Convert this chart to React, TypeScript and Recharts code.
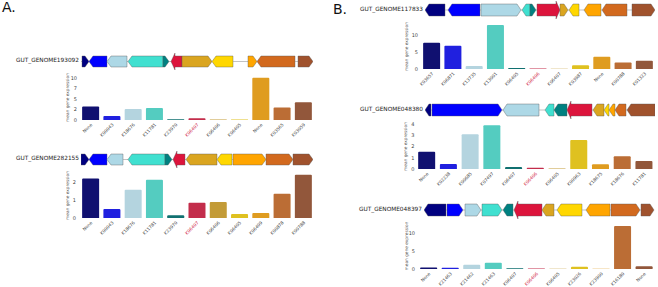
import React from 'react';
import { BarChart, Bar, XAxis, YAxis, Cell, Label } from 'recharts';

const FONT = '"DejaVu Sans", "Liberation Sans", sans-serif';

// gene colours, in gene order (same palette for every neighbourhood)
const GENE_COLORS = ['#000080', '#0000ff', '#add8e6', '#40e0d0', '#008080', '#dc143c', '#daa520', '#ffd700', '#ffa500', '#d2691e', '#a0522d'];
const HIGHLIGHT_INDEX = 5;

// ---------- GUT_GENOME193092 ----------
const g193092Labels = ['None', 'K00043', 'K18676', 'K11781', 'K23970', 'K06407', 'K06406', 'K06405', 'None', 'K03565', 'K03059'];
const g193092Values = [3.2, 0.95, 2.6, 2.85, 0.2, 0.4, 0.1, 0.1, 10.05, 3.0, 4.2];
const g193092Ticks = [0, 2.5, 5, 7.5, 10];
const g193092Starts = [50, 400, 1300, 2350, 4100, 4500, 5050, 6550, 8350, 8800, 10850];
const g193092Ends = [400, 1300, 2300, 4100, 4400, 5050, 6550, 7600, 8800, 10700, 11600];
const g193092Strands = [1, -1, -1, -1, 1, -1, 1, -1, 1, -1, 1];

// ---------- GUT_GENOME282155 ----------
const g282155Labels = ['None', 'K00043', 'K18676', 'K11781', 'K23970', 'K06407', 'K06406', 'K06405', 'K06409', 'K00878', 'K00788'];
const g282155Values = [2.2, 0.5, 1.57, 2.13, 0.15, 0.85, 0.89, 0.22, 0.28, 1.35, 2.4];
const g282155Ticks = [0, 1, 2];
const g282155Starts = [0, 400, 1300, 2350, 4200, 4600, 5250, 6800, 7600, 9250, 10600];
const g282155Ends = [400, 1300, 2100, 4200, 4550, 5200, 6800, 7550, 9250, 10600, 11600];
const g282155Strands = [1, -1, -1, -1, 1, -1, -1, -1, 1, 1, 1];

// ---------- GUT_GENOME117833 ----------
const g117833Labels = ['K03657', 'K06871', 'K13735', 'K13001', 'K06405', 'K06406', 'K06407', 'K03987', 'None', 'K00788', 'K01323'];
const g117833Values = [7.7, 6.8, 0.9, 12.9, 0.3, 0.15, 0.1, 1.1, 3.6, 1.9, 2.4];
const g117833Ticks = [0, 5, 10];
const g117833Starts = [0, 1150, 2800, 4850, 5250, 5600, 6750, 7200, 7950, 8850, 10350];
const g117833Ends = [1000, 2750, 4800, 5250, 5550, 6750, 7150, 7700, 8800, 10100, 11500];
const g117833Strands = [-1, -1, 1, -1, 1, 1, 1, -1, -1, -1, 1];

// ---------- GUT_GENOME048380 ----------
const g048380Labels = ['None', 'K02238', 'K00685', 'K07497', 'K06407', 'K06406', 'K06405', 'K00963', 'K18675', 'K18676', 'K11781'];
const g048380Values = [1.54, 0.44, 3.1, 3.9, 0.18, 0.12, 0.05, 2.58, 0.42, 1.13, 0.71];
const g048380Ticks = [0, 1, 2, 3, 4];
const g048380Starts = [0, 350, 3900, 6000, 6450, 7100, 8400, 8950, 9200, 9500, 10100];
const g048380Ends = [300, 3850, 5700, 6450, 7100, 8350, 8950, 9200, 9500, 10050, 11500];
const g048380Strands = [-1, 1, -1, -1, -1, -1, -1, -1, -1, -1, -1];

// ---------- GUT_GENOME048397 ----------
const g048397Labels = ['None', 'K21463', 'K21462', 'K21463', 'K06407', 'K06406', 'K06405', 'K23026', 'K23900', 'K16180', 'None'];
const g048397Values = [0.4, 0.35, 1.2, 1.75, 0.2, 0.15, 0.1, 0.65, 0.1, 12.0, 0.75];
const g048397Ticks = [0, 5, 10];
const g048397Starts = [0, 1150, 2050, 2900, 3950, 4500, 5900, 6650, 8100, 9350, 10850];
const g048397Ends = [1100, 1950, 2850, 3900, 4450, 5900, 6500, 7900, 9300, 10800, 11500];
const g048397Strands = [-1, 1, 1, 1, -1, -1, -1, -1, -1, 1, 1];

// seaborn-like desaturation of bar colours
function desaturate(hex: string, prop = 0.75): string {
  const r = parseInt(hex.slice(1, 3), 16) / 255;
  const g = parseInt(hex.slice(3, 5), 16) / 255;
  const b = parseInt(hex.slice(5, 7), 16) / 255;
  const max = Math.max(r, g, b), min = Math.min(r, g, b);
  const l = (max + min) / 2;
  let h = 0, s = 0;
  if (max !== min) {
    const d = max - min;
    s = l > 0.5 ? d / (2 - max - min) : d / (max + min);
    if (max === r) h = (g - b) / d + (g < b ? 6 : 0);
    else if (max === g) h = (b - r) / d + 2;
    else h = (r - g) / d + 4;
    h /= 6;
  }
  s *= prop;
  const hue2rgb = (p: number, q: number, t: number) => {
    if (t < 0) t += 1;
    if (t > 1) t -= 1;
    if (t < 1 / 6) return p + (q - p) * 6 * t;
    if (t < 1 / 2) return q;
    if (t < 2 / 3) return p + (q - p) * (2 / 3 - t) * 6;
    return p;
  };
  let rr, gg, bb;
  if (s === 0) { rr = gg = bb = l; } else {
    const q = l < 0.5 ? l * (1 + s) : l + s - l * s;
    const p = 2 * l - q;
    rr = hue2rgb(p, q, h + 1 / 3);
    gg = hue2rgb(p, q, h);
    bb = hue2rgb(p, q, h - 1 / 3);
  }
  const toHex = (v: number) => Math.round(v * 255).toString(16).padStart(2, '0');
  return '#' + toHex(rr) + toHex(gg) + toHex(bb);
}

const BAR_COLORS = GENE_COLORS.map((c) => desaturate(c));

const makeGeneShape = (strand: number, color: string, highlight: boolean) => (props: any) => {
  const { x, y, width, height } = props;
  if (!width || width <= 0) return <g />;
  const h = Math.min(width, 4);
  const top = y, bot = y + height, mid = y + height / 2;
  let pts: number[][];
  if (strand > 0) {
    const xb = x + width - h;
    pts = highlight
      ? [[x, top], [xb, top], [xb, top - 3], [x + width, mid], [xb, bot + 3], [xb, bot], [x, bot]]
      : [[x, top], [xb, top], [x + width, mid], [xb, bot], [x, bot]];
  } else {
    const xb = x + h;
    pts = highlight
      ? [[x + width, top], [xb, top], [xb, top - 3], [x, mid], [xb, bot + 3], [xb, bot], [x + width, bot]]
      : [[x + width, top], [xb, top], [x, mid], [xb, bot], [x + width, bot]];
  }
  return <polygon points={pts.map((p) => p.join(',')).join(' ')} fill={color} stroke="#555" strokeWidth={0.4} strokeLinejoin="miter" />;
};

const gapShape = (props: any) => {
  const { x, y, width, height } = props;
  if (!width || width <= 0) return <g />;
  return <line x1={x} x2={x + width} y1={y + height / 2} y2={y + height / 2} stroke="#999" strokeWidth={0.6} />;
};

interface TrackProps { name: string; starts: number[]; ends: number[]; strands: number[]; total: number; left: number; width: number; cy: number; boxH: number; }

function GeneTrack({ name, starts, ends, strands, total, left, width, cy, boxH }: TrackProps) {
  const row: any = { name };
  let prev = 0;
  starts.forEach((s, i) => {
    row['gap' + i] = s - prev;
    row['gene' + i] = ends[i] - s;
    prev = ends[i];
  });
  const bars: any[] = [];
  starts.forEach((_, i) => {
    bars.push(<Bar key={'gap' + i} dataKey={'gap' + i} stackId="t" isAnimationActive={false} shape={gapShape} />);
    bars.push(
      <Bar key={'gene' + i} dataKey={'gene' + i} stackId="t" isAnimationActive={false}
        shape={makeGeneShape(strands[i], GENE_COLORS[i], i === HIGHLIGHT_INDEX)} />
    );
  });
  return (
    <>
      <div style={{ position: 'absolute', right: 658 - (left - 2), top: cy, transform: 'translateY(-50%)', fontSize: 5.8, lineHeight: 1, color: '#222', fontFamily: FONT, whiteSpace: 'nowrap' }}>{name}</div>
      <div style={{ position: 'absolute', left, top: cy - 10, width, height: 20 }}>
        <BarChart layout="vertical" width={width} height={20} data={[row]} margin={{ top: 0, right: 0, bottom: 0, left: 0 }} barSize={boxH} barCategoryGap={0}>
          <XAxis type="number" hide domain={[0, total]} />
          <YAxis type="category" dataKey="name" hide />
          {bars}
        </BarChart>
      </div>
    </>
  );
}

interface ExprProps { labels: string[]; values: number[]; ticks: number[]; yMax: number; plotLeft: number; plotRight: number; plotTop: number; plotBottom: number; labelX: number; tickGap: number; }

function ExprChart({ labels, values, ticks, yMax, plotLeft, plotRight, plotTop, plotBottom, labelX, tickGap }: ExprProps) {
  const data = labels.map((l, i) => ({ i, label: l, value: values[i] }));
  const divLeft = labelX - 4;
  const yw = plotLeft - divLeft;
  const mt = 4, xh = 22;
  const width = plotRight - divLeft + 2;
  const height = mt + (plotBottom - plotTop) + xh;
  const renderTick = (p: any) => {
    const { x, y, payload } = p;
    const idx = payload.value as number;
    const ax = x + 2, ay = y + 2;
    return (
      <text x={ax} y={ay} transform={`rotate(-45 ${ax} ${ay})`} textAnchor="end" fontSize={4.4} fontFamily={FONT}
        fill={idx === HIGHLIGHT_INDEX ? '#d0203f' : '#444'}>{labels[idx]}</text>
    );
  };
  const renderYLabel = (p: any) => {
    const vb = p.viewBox || {};
    const cx = (vb.x || 0) + 4.5;
    const cyy = (vb.y || 0) + (vb.height || 0) / 2;
    return (
      <text x={cx} y={cyy} transform={`rotate(-90 ${cx} ${cyy})`} textAnchor="middle" fontSize={4.3} fontFamily={FONT} fill="#555">mean gene expression</text>
    );
  };
  return (
    <div style={{ position: 'absolute', left: divLeft, top: plotTop - mt, width, height }}>
      <BarChart width={width} height={height} data={data} margin={{ top: mt, right: 2, left: 0, bottom: 0 }} barCategoryGap="10%">
        <XAxis dataKey="i" type="category" interval={0} tickLine={false} axisLine={false} height={xh} tickSize={2} tickMargin={1} tick={renderTick} />
        <YAxis type="number" domain={[0, yMax]} ticks={ticks} width={yw} tickLine={false} axisLine={false} tickSize={0} tickMargin={tickGap}
          tick={{ fontSize: 5, fill: '#444', fontFamily: FONT }} tickFormatter={(v: number) => String(Math.floor(v))}>
          <Label content={renderYLabel} />
        </YAxis>
        <Bar dataKey="value" isAnimationActive={false} radius={[1, 1, 0, 0]}>
          {data.map((d) => <Cell key={d.i} fill={BAR_COLORS[d.i]} />)}
        </Bar>
      </BarChart>
    </div>
  );
}

export default function App() {
  return (
    <div style={{ position: 'absolute', left: 0, top: 0, width: 658, height: 287, background: '#fff', overflow: 'hidden', fontFamily: FONT }}>
      <div style={{ position: 'absolute', left: 2, top: 0, fontSize: 14, lineHeight: 1, color: '#111' }}>A.</div>
      <div style={{ position: 'absolute', left: 333, top: 1.5, fontSize: 14, lineHeight: 1, color: '#111' }}>B.</div>

      <GeneTrack name="GUT_GENOME193092" starts={g193092Starts} ends={g193092Ends} strands={g193092Strands} total={11600} left={81} width={232} cy={60.5} boxH={11} />
      <ExprChart labels={g193092Labels} values={g193092Values} ticks={g193092Ticks} yMax={10.7} plotLeft={80} plotRight={314} plotTop={75} plotBottom={120} labelX={68} tickGap={3} />

      <GeneTrack name="GUT_GENOME282155" starts={g282155Starts} ends={g282155Ends} strands={g282155Strands} total={11600} left={81} width={232} cy={159} boxH={11} />
      <ExprChart labels={g282155Labels} values={g282155Values} ticks={g282155Ticks} yMax={2.5} plotLeft={80} plotRight={314} plotTop={173} plotBottom={218} labelX={68} tickGap={4} />

      <GeneTrack name="GUT_GENOME117833" starts={g117833Starts} ends={g117833Ends} strands={g117833Strands} total={11500} left={425} width={230} cy={10} boxH={12} />
      <ExprChart labels={g117833Labels} values={g117833Values} ticks={g117833Ticks} yMax={13.2} plotLeft={421} plotRight={655} plotTop={24} plotBottom={69} labelX={407} tickGap={3} />

      <GeneTrack name="GUT_GENOME048380" starts={g048380Starts} ends={g048380Ends} strands={g048380Strands} total={11500} left={425} width={230} cy={109.5} boxH={12} />
      <ExprChart labels={g048380Labels} values={g048380Values} ticks={g048380Ticks} yMax={4.0} plotLeft={416} plotRight={655} plotTop={124} plotBottom={169} labelX={406} tickGap={1.5} />

      <GeneTrack name="GUT_GENOME048397" starts={g048397Starts} ends={g048397Ends} strands={g048397Strands} total={11550} left={424} width={231} cy={210} boxH={12} />
      <ExprChart labels={g048397Labels} values={g048397Values} ticks={g048397Ticks} yMax={12.8} plotLeft={418} plotRight={655} plotTop={223} plotBottom={269} labelX={407} tickGap={3} />
    </div>
  );
}
